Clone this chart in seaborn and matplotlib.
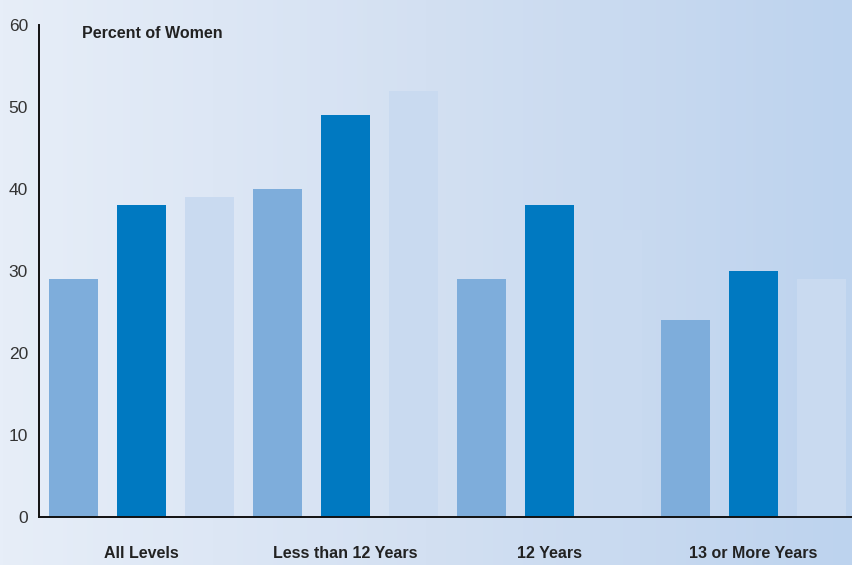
import numpy as np
import pandas as pd
import matplotlib
matplotlib.use("Agg")
import matplotlib.pyplot as plt
from matplotlib.colors import LinearSegmentedColormap
import seaborn as sns

categories = ["All Levels", "Less than 12 Years", "12 Years", "13 or More Years"]
series_names = ["Series 1", "Series 2", "Series 3"]
series1 = [29, 40, 29, 24]
series2 = [38, 49, 38, 30]
series3 = [39, 52, 35, 29]
y_ticks = [0, 10, 20, 30, 40, 50, 60]

rows = []
for name, vals in zip(series_names, [series1, series2, series3]):
    for c, v in zip(categories, vals):
        rows.append({"category": c, "series": name, "value": v})
df = pd.DataFrame(rows)

sns.set_style("white")
plt.rcParams['font.family'] = ['Liberation Sans', 'DejaVu Sans']

W, H = 853, 565
fig = plt.figure(figsize=(W / 100, H / 100), dpi=100)

# background gradient
bg = fig.add_axes([0, 0, 1, 1], zorder=0)
grad = np.linspace(0, 1, 256).reshape(1, -1)
cmap = LinearSegmentedColormap.from_list("bg", ["#e7eef8", "#d3e0f2", "#bdd3ee"])
bg.imshow(grad, aspect="auto", cmap=cmap, extent=[0, 1, 0, 1])
bg.set_axis_off()

left = 39 / W
bottom = (H - 517) / H
top = (H - 25) / H
ax = fig.add_axes([left, bottom, 1 - left, top - bottom], zorder=1)
ax.patch.set_alpha(0)

palette = ["#7eaddb", "#0079c1", "#c9daf0"]
sns.barplot(data=df, x="category", y="value", hue="series", order=categories,
            hue_order=series_names, palette=palette, width=1.0, gap=0.28,
            saturation=1, legend=False, ax=ax, errorbar=None, linewidth=0)

ax.set_xlim(-0.5025, 3.488)
ax.set_ylim(0, 60)
ax.set_yticks(y_ticks)
ax.set_xlabel("")
ax.set_ylabel("")
for s in ["top", "right"]:
    ax.spines[s].set_visible(False)
for s in ["left", "bottom"]:
    ax.spines[s].set_color("#111111")
    ax.spines[s].set_linewidth(1.4)
ax.tick_params(axis="y", direction="in", length=15, width=1.4, color="#111111",
               pad=8, labelsize=12.5, labelcolor="#333333")
ax.tick_params(axis="x", length=0, pad=21)
for lbl in ax.get_xticklabels():
    lbl.set_fontweight("bold")
    lbl.set_fontsize(11.5)
    lbl.set_color("#222222")

fig.text(82 / W, 1 - 33 / H, "Percent of Women", fontsize=11.5, fontweight="bold",
         color="#222222", va="center", ha="left")

fig.savefig("out.png", dpi=100)
